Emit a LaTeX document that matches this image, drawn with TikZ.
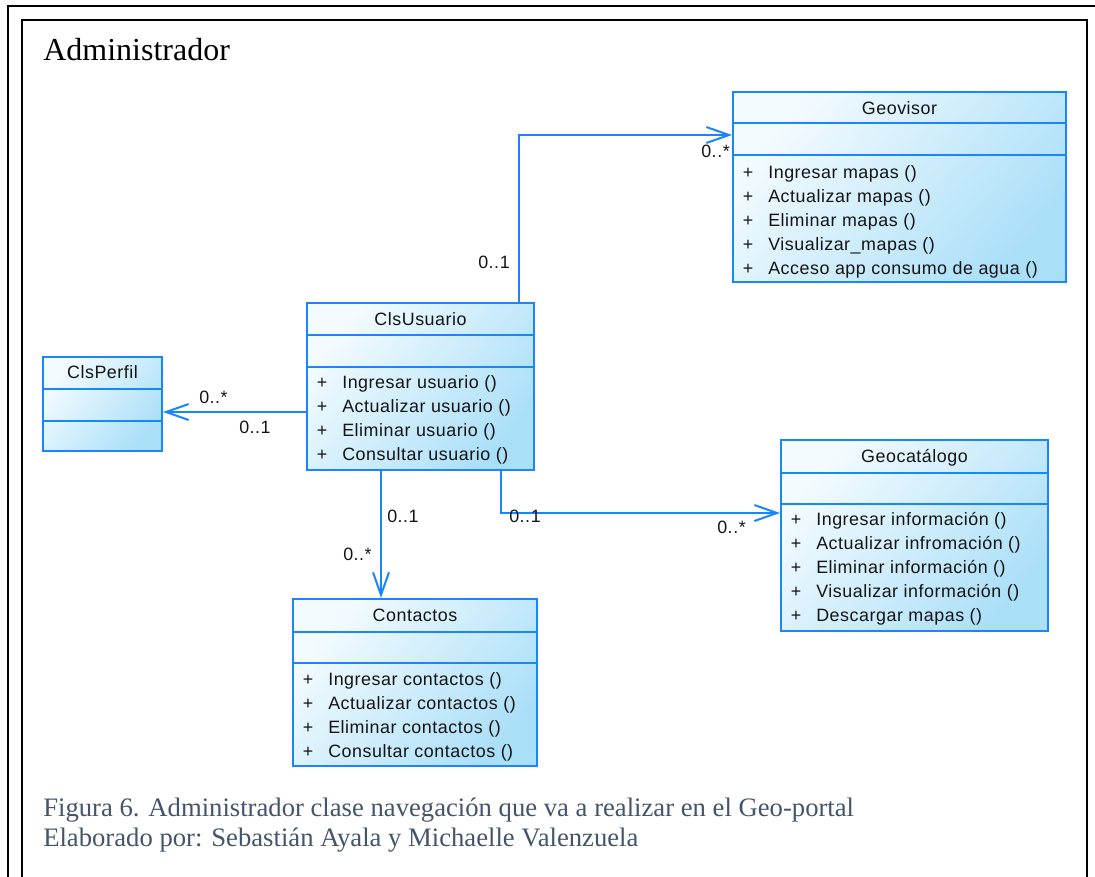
\documentclass[tikz,border=0pt]{standalone}
\usepackage{fontspec}
\setmainfont{Liberation Serif}
\newfontfamily\umlfont{Liberation Sans}[LetterSpace=3]
\usetikzlibrary{arrows.meta,fit}

\definecolor{umlblue}{RGB}{24,134,252}
\definecolor{boxlight}{RGB}{244,251,254}
\definecolor{boxdeep}{RGB}{170,223,248}
\definecolor{captiongray}{RGB}{68,84,106}
\definecolor{umltext}{RGB}{20,20,20}

% operations of a class: one "+" and one text per row
\newcommand{\umlops}[4]{%
  \foreach \t [count=\i from 0] in {#4} {
    \node[optext, anchor=base] (#1-plus-\i) at (#2+15, #3+6+24*\i) {+};
    \node[optext, anchor=base west] (#1-op-\i) at (#2+35, #3+6+24*\i) {\t};
  }}

\begin{document}
\begin{tikzpicture}[x=0.75pt,y=-0.75pt,
  classbox/.style={draw=umlblue, line width=1.5pt, inner sep=0pt,
    top color=boxlight, bottom color=boxdeep, shading angle=50},
  sepline/.style={draw=umlblue, line width=1.5pt},
  umltitle/.style={font=\umlfont\fontsize{13.4pt}{15pt}\selectfont, text=umltext, inner sep=0pt, anchor=base},
  optext/.style={font=\umlfont\fontsize{13.4pt}{15pt}\selectfont, text=umltext, inner sep=0pt},
  mult/.style={font=\umlfont\fontsize{13.4pt}{15pt}\selectfont, text=umltext, inner sep=0pt, anchor=base west},
  assoc/.style={draw=umlblue, line width=1.5pt, line join=miter,
    -{Straight Barb[length=17pt,width=12pt,line width=1.5pt]}},
  frameline/.style={draw=black, line width=1.6pt},
]
\useasboundingbox (0,0) rectangle (1095,876);

% page frames
\draw[frameline] (8,890) -- (8,6) -- (1110,6);
\draw[frameline] (22,890) -- (22,20) -- (1087,20) -- (1087,890);

\node[font=\fontsize{24pt}{28pt}\selectfont, anchor=base west, inner sep=0pt] (heading) at (43,60) {Administrador};

% ---- class boxes ----
\node[classbox, fit={(733,92) (1066,282)}] (geovisor) {};
\draw[sepline] (geovisor.west |- 0,123) -- (geovisor.east |- 0,123);
\draw[sepline] (geovisor.west |- 0,155) -- (geovisor.east |- 0,155);
\node[umltitle] (geovisor-title) at (899.5,114) {Geovisor};
\umlops{geovisor}{733}{172}{Ingresar mapas (),Actualizar mapas (),Eliminar mapas (),Visualizar\_mapas (),Acceso app consumo de agua ()}

\node[classbox, fit={(307,303) (534,470)}] (usuario) {};
\draw[sepline] (usuario.west |- 0,335) -- (usuario.east |- 0,335);
\draw[sepline] (usuario.west |- 0,367) -- (usuario.east |- 0,367);
\node[umltitle] (usuario-title) at (420.5,325) {ClsUsuario};
\umlops{usuario}{307}{382}{Ingresar usuario (),Actualizar usuario (),Eliminar usuario (),Consultar usuario ()}

\node[classbox, fit={(43,357) (162,451)}] (perfil) {};
\draw[sepline] (perfil.west |- 0,389) -- (perfil.east |- 0,389);
\draw[sepline] (perfil.west |- 0,421) -- (perfil.east |- 0,421);
\node[umltitle] (perfil-title) at (102.5,378) {ClsPerfil};

\node[classbox, fit={(781,440) (1048,631)}] (geocat) {};
\draw[sepline] (geocat.west |- 0,473) -- (geocat.east |- 0,473);
\draw[sepline] (geocat.west |- 0,504) -- (geocat.east |- 0,504);
\node[umltitle] (geocat-title) at (914.5,462) {Geocatálogo};
\umlops{geocat}{781}{519}{Ingresar información (),Actualizar infromación (),Eliminar información (),Visualizar información (),Descargar mapas ()}

\node[classbox, fit={(293,599) (537,766)}] (contactos) {};
\draw[sepline] (contactos.west |- 0,632) -- (contactos.east |- 0,632);
\draw[sepline] (contactos.west |- 0,663) -- (contactos.east |- 0,663);
\node[umltitle] (contactos-title) at (415,621) {Contactos};
\umlops{contactos}{293}{679}{Ingresar contactos (),Actualizar contactos (),Eliminar contactos (),Consultar contactos ()}

% ---- associations ----
\draw[assoc] (usuario.north -| 519,0) |- (geovisor.west |- 0,135);
\draw[assoc] (usuario.west |- 0,412) -- (perfil.east |- 0,412);
\draw[assoc] (usuario.south -| 381,0) -- (contactos.north -| 381,0);
\draw[assoc] (usuario.south -| 501,0) |- (geocat.west |- 0,513);

% ---- multiplicities ----
\node[mult] (m-gv-src) at (478,268) {0..1};
\node[mult] (m-gv-dst) at (701,157) {0..*};
\node[mult] (m-pf-dst) at (199,403) {0..*};
\node[mult] (m-pf-src) at (239,433) {0..1};
\node[mult] (m-ct-src) at (387,522) {0..1};
\node[mult] (m-ct-dst) at (343,560) {0..*};
\node[mult] (m-gc-src) at (509,522) {0..1};
\node[mult] (m-gc-dst) at (717,533) {0..*};

% ---- caption ----
\node[font=\fontsize{20pt}{22pt}\selectfont, text=captiongray, anchor=base west, inner sep=0pt] (caption1) at (43,816)
  {Figura 6. Administrador clase navegación que va a realizar en el Geo-portal};
\node[font=\fontsize{20pt}{22pt}\selectfont, text=captiongray, anchor=base west, inner sep=0pt] (caption2) at (43,846)
  {Elaborado por: Sebastián Ayala y Michaelle Valenzuela};
\end{tikzpicture}
\end{document}
